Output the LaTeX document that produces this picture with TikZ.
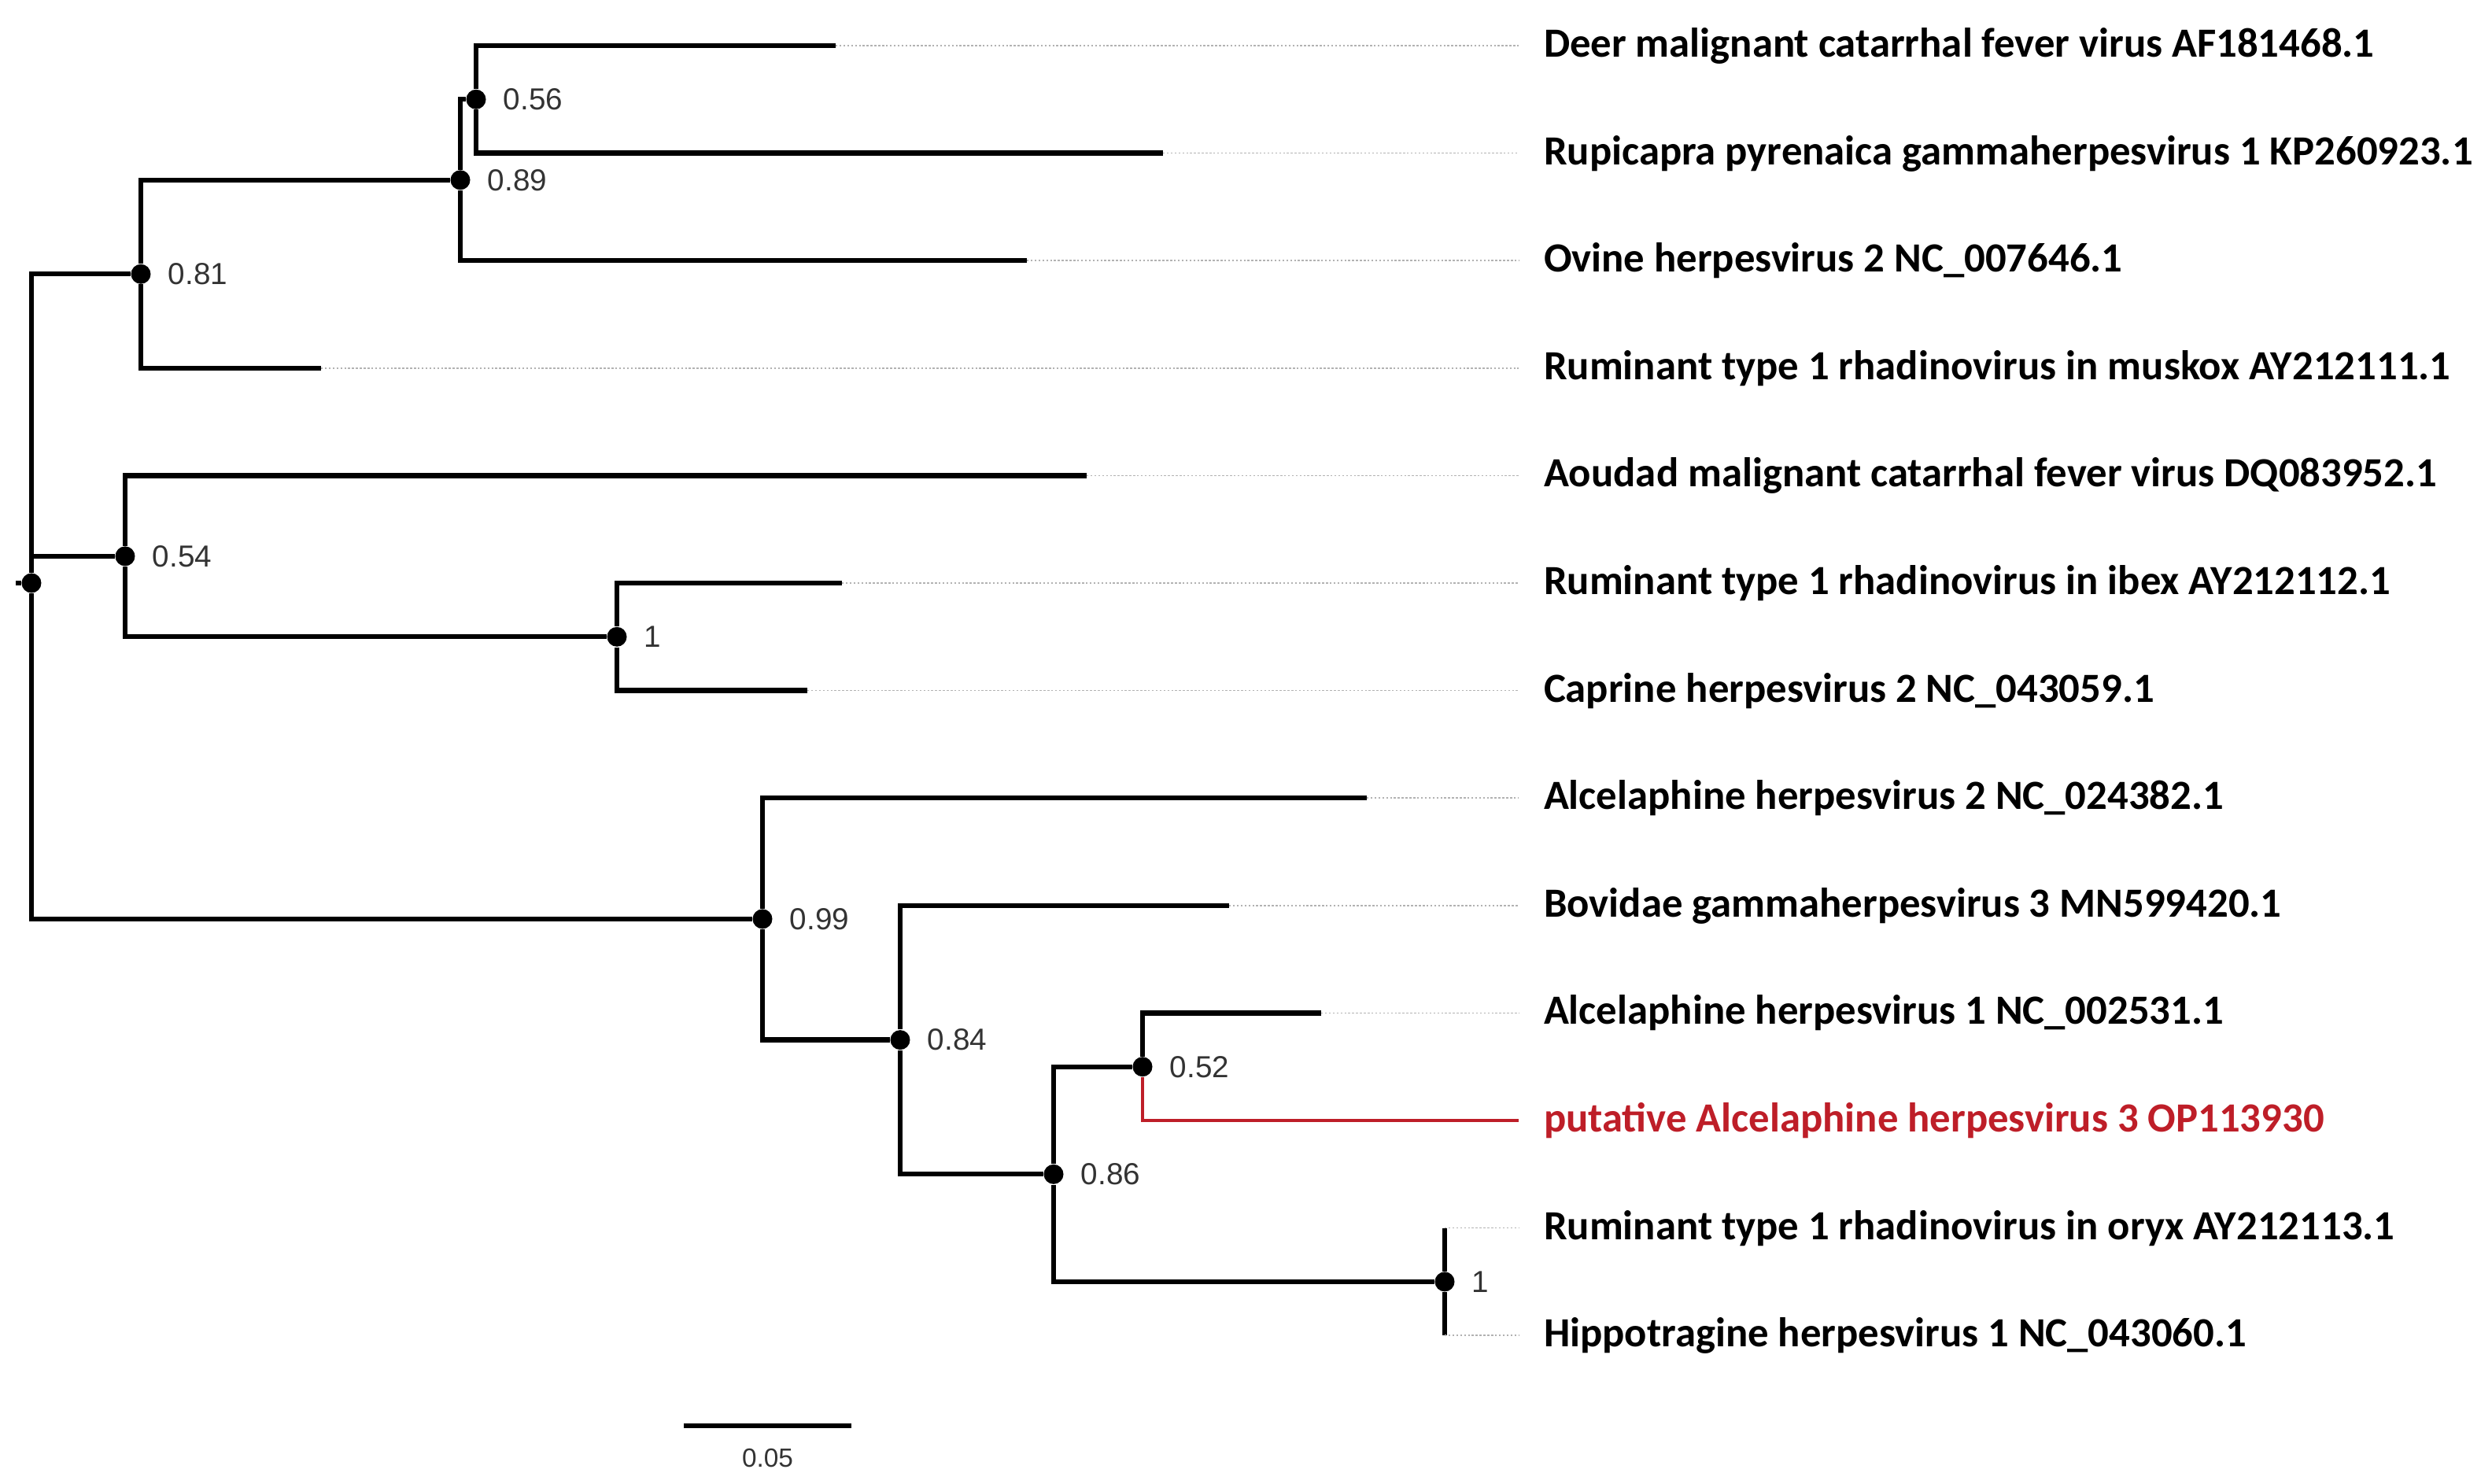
\documentclass[tikz,border=0pt]{standalone}
\usepackage{fontspec}
\newfontfamily\taxonfont{Carlito}
\newfontfamily\supfont{Liberation Sans}
\definecolor{hostred}{RGB}{190,30,40}

\tikzset{
	branch/.style={line width=1.8pt, black},
	hostbranch/.style={line width=0.9pt, hostred},
	leafdots/.style={line width=0.5pt, black!30, dash pattern=on 0.7pt off 0.7pt},
	dot/.style={shape=circle, fill=black, inner sep=0pt, minimum size=2.5mm},
	support/.style={font=\supfont\fontsize{11}{13}\selectfont, text=black!80, inner sep=0pt, xshift=2.1mm},
	scalelbl/.style={font=\supfont\fontsize{9.5}{11}\selectfont, text=black!80, inner sep=0pt},
	taxon/.style={anchor=west, inner xsep=0pt, inner ysep=0pt, outer xsep=3.2mm, text height=10pt, text depth=1.8pt, font=\taxonfont\bfseries\fontsize{15}{17}\selectfont},
}

\begin{document}
\begin{tikzpicture}
		\useasboundingbox (0,0) rectangle (31.53,-18.86);
		
		% inner nodes
		\node[dot] (root) at (0.40,-7.41) {};
		\coordinate (stub) at (0.20,-7.41);
		\node[dot, label={[support]right:0.81}] (n081) at (1.79,-3.483) {};
		\node[dot, label={[support]right:0.89}] (n089) at (5.85,-2.288) {};
		\node[dot, label={[support]right:0.56}] (n056) at (6.05,-1.263) {};
		\node[dot, label={[support]right:0.54}] (n054) at (1.59,-7.069) {};
		\node[dot, label={[support]right:1}] (n1a) at (7.84,-8.093) {};
		\node[dot, label={[support]right:0.99}] (n099) at (9.69,-11.679) {};
		\node[dot, label={[support]right:0.84}] (n084) at (11.44,-13.216) {};
		\node[dot, label={[support]right:0.86}] (n086) at (13.39,-14.923) {};
		\node[dot, label={[support]right:0.52}] (n052) at (14.52,-13.557) {};
		\node[dot, label={[support]right:1}] (n1b) at (18.36,-16.289) {};
		
		% branch tips
		\coordinate (t1) at (10.62,-0.58);
		\coordinate (t2) at (14.78,-1.946);
		\coordinate (t3) at (13.05,-3.312);
		\coordinate (t4) at (4.08,-4.678);
		\coordinate (t5) at (13.81,-6.044);
		\coordinate (t6) at (10.70,-7.41);
		\coordinate (t7) at (10.26,-8.776);
		\coordinate (t8) at (17.37,-10.142);
		\coordinate (t9) at (15.62,-11.508);
		\coordinate (t10) at (16.79,-12.874);
		\coordinate (t12) at (18.36,-15.606);
		\coordinate (t13) at (18.36,-16.972);
		
		% taxa
		\node[taxon] (l1) at (19.30,-0.58) {Deer malignant catarrhal fever virus AF181468.1};
		\node[taxon] (l2) at (19.30,-1.946) {Rupicapra pyrenaica gammaherpesvirus 1 KP260923.1};
		\node[taxon] (l3) at (19.30,-3.312) {Ovine herpesvirus 2 NC\_007646.1};
		\node[taxon] (l4) at (19.30,-4.678) {Ruminant type 1 rhadinovirus in muskox AY212111.1};
		\node[taxon] (l5) at (19.30,-6.044) {Aoudad malignant catarrhal fever virus DQ083952.1};
		\node[taxon] (l6) at (19.30,-7.41) {Ruminant type 1 rhadinovirus in ibex AY212112.1};
		\node[taxon] (l7) at (19.30,-8.776) {Caprine herpesvirus 2 NC\_043059.1};
		\node[taxon] (l8) at (19.30,-10.142) {Alcelaphine herpesvirus 2 NC\_024382.1};
		\node[taxon] (l9) at (19.30,-11.508) {Bovidae gammaherpesvirus 3 MN599420.1};
		\node[taxon] (l10) at (19.30,-12.874) {Alcelaphine herpesvirus 1 NC\_002531.1};
		\node[taxon, text=hostred] (l11) at (19.30,-14.24) {putative Alcelaphine herpesvirus 3 OP113930};
		\node[taxon] (l12) at (19.30,-15.606) {Ruminant type 1 rhadinovirus in oryx AY212113.1};
		\node[taxon] (l13) at (19.30,-16.972) {Hippotragine herpesvirus 1 NC\_043060.1};
		
		% branches
		\draw[branch] (stub) -- (root);
		\draw[branch] (root) |- (n081);
		\draw[branch] (root) |- (n054);
		\draw[branch] (root) |- (n099);
		
		\draw[branch] (n081) |- (n089);
		\draw[branch] (n081) |- (t4);
		\draw[branch] (n089) |- (n056);
		\draw[branch] (n089) |- (t3);
		\draw[branch] (n056) |- (t1);
		\draw[branch] (n056) |- (t2);
		
		\draw[branch] (n054) |- (t5);
		\draw[branch] (n054) |- (n1a);
		\draw[branch] (n1a) |- (t6);
		\draw[branch] (n1a) |- (t7);
		
		\draw[branch] (n099) |- (t8);
		\draw[branch] (n099) |- (n084);
		\draw[branch] (n084) |- (t9);
		\draw[branch] (n084) |- (n086);
		\draw[branch] (n086) |- (n052);
		\draw[branch] (n086) |- (n1b);
		\draw[branch] (n052) |- (t10);
		\draw[hostbranch] (n052.south) |- (l11.west);
		\draw[branch] (n1b) |- (t12);
		\draw[branch] (n1b) |- (t13);
		
		% dotted leaders
		\draw[leafdots] (t1) -- (l1.west);
		\draw[leafdots] (t2) -- (l2.west);
		\draw[leafdots] (t3) -- (l3.west);
		\draw[leafdots] (t4) -- (l4.west);
		\draw[leafdots] (t5) -- (l5.west);
		\draw[leafdots] (t6) -- (l6.west);
		\draw[leafdots] (t7) -- (l7.west);
		\draw[leafdots] (t8) -- (l8.west);
		\draw[leafdots] (t9) -- (l9.west);
		\draw[leafdots] (t10) -- (l10.west);
		\draw[leafdots] (t12) -- (l12.west);
		\draw[leafdots] (t13) -- (l13.west);
		
		% scale bar
		\coordinate (sbl) at (8.69,-18.12);
		\coordinate (sbr) at (10.82,-18.12);
		\draw[branch] (sbl) -- (sbr) node[scalelbl, midway, below=2.6mm] (sbtext) {0.05};
		
\end{tikzpicture}
\end{document}
